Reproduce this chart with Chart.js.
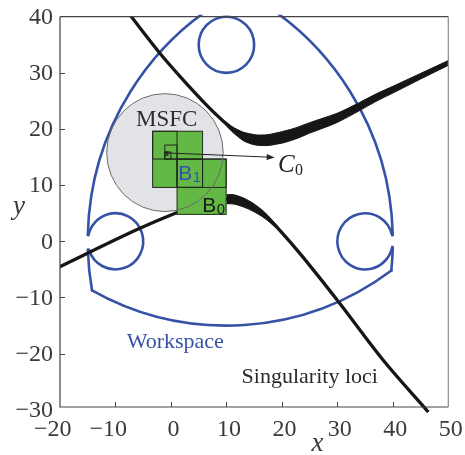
<!DOCTYPE html>
<html><head><meta charset="utf-8">
<script src="https://cdn.jsdelivr.net/npm/chart.js@4.4.0/dist/chart.umd.min.js"></script>
<style>html,body{margin:0;padding:0;background:#fff}#wrap{width:465px;height:455px}</style>
</head><body>
<div id="wrap"><canvas id="c" width="465" height="455"></canvas></div>
<script>
// ---- axes ----
const xTicks = [-20, -10, 0, 10, 20, 30, 40, 50];
const yTicks = [-30, -20, -10, 0, 10, 20, 30, 40];

// ---- singularity loci (upper branch) ----
const upperX = [-7.3, -2.0, 2.8, 7.6, 10, 11.2, 12.5, 13.5, 14.5, 15.5, 17, 18.5, 20.2, 23.2, 26, 29.2, 33.7, 40, 45, 50.5];
const upperY = [40.2, 33.5, 28.1, 23.1, 20.9, 19.8, 18.95, 18.5, 18.2, 18.0, 18.0, 18.2, 18.5, 19.5, 20.5, 21.7, 23.9, 27.0, 29.4, 32.0];
const upperBandX   = [10, 11, 12, 13, 14, 15, 16, 17, 18, 19, 20, 21.5, 23, 25, 27, 30, 34, 37, 40, 45, 50.5];
const upperBandTop = [21.2, 20.45, 19.9, 19.45, 19.2, 19.0, 18.92, 18.95, 19.08, 19.3, 19.52, 19.9, 20.38, 21.13, 21.8, 22.82, 24.72, 26.26, 27.6, 29.9, 32.42];
const upperBandBot = [20.6, 19.55, 18.7, 17.95, 17.5, 17.2, 17.08, 17.05, 17.12, 17.3, 17.48, 17.9, 18.42, 19.27, 20.0, 21.18, 23.28, 24.94, 26.4, 28.9, 31.58];

// ---- singularity loci (lower branch) ----
const lowerX = [-20.3, -5.6, 1.0, 4.0, 6.5, 8.5, 10, 11, 12, 13, 14, 15, 16, 17, 18, 20, 23.2, 30, 38.2, 46.4];
const lowerY = [-4.64, 2.33, 5.1, 6.2, 7.0, 7.45, 7.5, 7.5, 7.3, 6.95, 6.5, 5.95, 5.3, 4.55, 3.65, 1.55, -2.1, -10.5, -21.1, -30.4];
const lowerBandX   = [10, 11, 12, 13, 14, 15, 16, 17, 18, 19, 20];
const lowerBandTop = [8.3, 8.32, 8.12, 7.75, 7.25, 6.65, 5.92, 5.07, 4.07, 2.97, 1.8];
const lowerBandBot = [6.7, 6.68, 6.48, 6.15, 5.75, 5.25, 4.68, 4.03, 3.23, 2.33, 1.3];

// ---- workspace boundary arcs (centre, radius, from/to angle in degrees) ----
const wsArcCX   = [35, 35, -10, -10, 10, 10, -10, 35];
const wsArcCY   = [0, 0, 0, 0, 35, 35, 0, 0];
const wsArcR    = [50, 50, 50, 50, 50, 5, 5, 5];
const wsArcFrom = [116.7, 181.7, 1.3, -6.0, 241.0, 0, 197.5, 12.7];
const wsArcTo   = [178.7, 190.1, 63.3, -1.2, 306.5, 360, 527.3, 348.5];

// ---- MSFC circle ----
const msfcCenter = [-1.08, 15.8];
const msfcRadius = 10.5;

// ---- bisection boxes ----
const boxX0 = [-3.3, 1.1, -3.3, 1.1, 1.1, -1.1, -1.1, -1.1, -0.83];
const boxX1 = [5.7, 9.95, 1.1, 5.7, 9.95, 1.1, 0.0, -0.55, -0.55];
const boxY0 = [9.6, 4.8, 14.65, 9.6, 9.6, 14.65, 14.65, 15.28, 15.59];
const boxY1 = [19.6, 14.65, 19.6, 14.65, 14.65, 17.15, 15.9, 15.9, 15.9];

// ---- arrow to C0 ----
const arrowFrom = [-0.9, 15.75];
const arrowTo = [18.7, 14.95];

const BLACK = '#161616';
const BLUE = '#3552a6';
const GREEN = '#64b845';
const SERIF = '"Liberation Serif"';
const SANS = '"Liberation Sans"';

function pts(xs, ys) { return xs.map((x, i) => ({ x: x, y: ys[i] })); }
function ds(xs, ys, w, extra) {
  return Object.assign({
    data: pts(xs, ys), borderColor: BLACK, backgroundColor: BLACK, borderWidth: w,
    pointRadius: 0, cubicInterpolationMode: 'monotone', fill: false
  }, extra || {});
}

const drawPlugin = {
  id: 'drawPlugin',
  beforeDatasetsDraw(chart) {
    const c = chart.ctx, xs = chart.scales.x, ys = chart.scales.y, a = chart.chartArea;
    const kx = xs.getPixelForValue(1) - xs.getPixelForValue(0);
    const ky = ys.getPixelForValue(0) - ys.getPixelForValue(1);
    c.save();
    c.beginPath();
    c.ellipse(xs.getPixelForValue(msfcCenter[0]), ys.getPixelForValue(msfcCenter[1]), msfcRadius * kx, msfcRadius * ky, 0, 0, Math.PI * 2);
    c.fillStyle = '#e2e3e6';
    c.fill();
    c.restore();
    c.save();
    c.beginPath(); c.rect(a.left, a.top - 2, a.right - a.left, a.bottom - a.top + 2); c.clip();
    c.strokeStyle = BLUE; c.lineWidth = 2.6; c.lineCap = 'round';
    for (let i = 0; i < wsArcCX.length; i++) {
      c.beginPath();
      c.ellipse(xs.getPixelForValue(wsArcCX[i]), ys.getPixelForValue(wsArcCY[i]), wsArcR[i] * kx, wsArcR[i] * ky, 0,
        -wsArcFrom[i] * Math.PI / 180, -wsArcTo[i] * Math.PI / 180, true);
      c.stroke();
    }
    c.restore();
  },
  afterDatasetsDraw(chart) {
    const c = chart.ctx, xs = chart.scales.x, ys = chart.scales.y, a = chart.chartArea;
    const px = v => xs.getPixelForValue(v), py = v => ys.getPixelForValue(v);
    const kx = px(1) - px(0), ky = py(0) - py(1);
    c.save();
    c.fillStyle = GREEN;
    for (let i = 0; i < boxX0.length; i++) {
      c.fillRect(px(boxX0[i]), py(boxY1[i]), px(boxX1[i]) - px(boxX0[i]), py(boxY0[i]) - py(boxY1[i]));
    }
    c.strokeStyle = '#1e2a1a'; c.lineWidth = 1;
    for (let i = 0; i < boxX0.length; i++) {
      c.strokeRect(px(boxX0[i]), py(boxY1[i]), px(boxX1[i]) - px(boxX0[i]), py(boxY0[i]) - py(boxY1[i]));
    }
    c.beginPath();
    c.ellipse(px(msfcCenter[0]), py(msfcCenter[1]), msfcRadius * kx, msfcRadius * ky, 0, 0, Math.PI * 2);
    c.strokeStyle = '#6a6a6a'; c.lineWidth = 1; c.stroke();
    const x0 = px(arrowFrom[0]), y0 = py(arrowFrom[1]), x1 = px(arrowTo[0]), y1 = py(arrowTo[1]);
    const ang = Math.atan2(y1 - y0, x1 - x0);
    c.beginPath(); c.moveTo(x0, y0); c.lineTo(x1 - 6 * Math.cos(ang), y1 - 6 * Math.sin(ang));
    c.strokeStyle = '#222'; c.lineWidth = 1; c.stroke();
    c.beginPath();
    c.moveTo(x1, y1);
    c.lineTo(x1 - 8 * Math.cos(ang) + 3 * Math.sin(ang), y1 - 8 * Math.sin(ang) - 3 * Math.cos(ang));
    c.lineTo(x1 - 8 * Math.cos(ang) - 3 * Math.sin(ang), y1 - 8 * Math.sin(ang) + 3 * Math.cos(ang));
    c.closePath(); c.fillStyle = '#222'; c.fill();
    c.textBaseline = 'alphabetic';
    c.fillStyle = '#2e2e2e';
    c.font = '23px ' + SERIF; c.textAlign = 'center';
    c.fillText('MSFC', px(-0.78), py(20.5));
    c.textAlign = 'left';
    c.fillStyle = BLUE; c.font = '22px ' + SERIF;
    c.fillText('Workspace', px(-7.98), py(-19.05));
    c.fillStyle = '#2a2a2a';
    c.fillText('Singularity loci', px(12.74), py(-25.28));
    c.font = 'italic 25px ' + SERIF; c.fillStyle = '#222';
    let bx = px(19.28), by = py(12.35);
    c.fillText('C', bx, by);
    let w = c.measureText('C').width;
    c.font = '16px ' + SERIF;
    c.fillText('0', bx + w + 0.5, by + 3);
    c.font = '21px ' + SANS; c.fillStyle = BLUE;
    bx = px(1.32); by = py(10.92);
    c.fillText('B', bx, by);
    w = c.measureText('B').width;
    c.font = '15px ' + SANS;
    c.fillText('1', bx + w + 0.5, by + 2);
    c.font = '21px ' + SANS; c.fillStyle = '#1a1a1a';
    bx = px(5.64); by = py(5.28);
    c.fillText('B', bx, by);
    w = c.measureText('B').width;
    c.font = '15px ' + SANS;
    c.fillText('0', bx + w + 0.5, by + 2);

    c.lineWidth = 1.2;
    c.strokeStyle = '#444';
    c.beginPath();
    c.moveTo(a.left, a.top); c.lineTo(a.left, a.bottom); c.lineTo(a.right, a.bottom);
    c.moveTo(a.left, a.top); c.lineTo(a.right, a.top);
    c.stroke();
    c.strokeStyle = '#8a8a8a';
    c.beginPath(); c.moveTo(a.right, a.top); c.lineTo(a.right, a.bottom); c.stroke();
    c.strokeStyle = '#444'; c.lineWidth = 1;
    xTicks.forEach(v => {
      if (v <= xs.min || v >= xs.max) return;
      const x = Math.round(px(v)) + 0.5;
      c.beginPath(); c.moveTo(x, a.bottom); c.lineTo(x, a.bottom - 5); c.stroke();
    });
    yTicks.forEach(v => {
      if (v <= ys.min || v >= ys.max) return;
      const y = Math.round(py(v)) + 0.5;
      c.beginPath(); c.moveTo(a.left, y); c.lineTo(a.left + 5, y); c.stroke();
    });
    const fmt = v => (v < 0 ? '\u2212' : '') + Math.abs(v);
    c.font = '24px ' + SERIF; c.fillStyle = '#3a3a3a'; c.textBaseline = 'middle';
    yTicks.forEach(v => {
      c.textAlign = 'right';
      c.fillText(fmt(v), a.left - 7, py(v) + 1);
    });
    xTicks.forEach(v => {
      const s = fmt(v);
      const digits = String(Math.abs(v));
      const dw = c.measureText(digits).width;
      c.textAlign = 'left';
      if (v < 0) {
        const mw = c.measureText('\u2212').width;
        c.fillText(s, px(v) - 0.5 - dw / 2 - mw, 430);
      } else {
        c.fillText(s, px(v) + 2.5 - dw / 2, 430);
      }
    });
    c.font = 'italic 27px ' + SERIF; c.textAlign = 'center';
    c.fillText('x', a.left + 0.663 * (a.right - a.left), 444);
    c.fillText('y', 19, 207);
    c.restore();
  }
};

new Chart(document.getElementById('c'), {
  type: 'line',
  data: {
    datasets: [
      ds(upperX, upperY, 3.3),
      ds(upperBandX, upperBandTop, 1),
      ds(upperBandX, upperBandBot, 1, { fill: '-1' }),
      ds(lowerX, lowerY, 3.3, { clip: { left: 0, top: 0, right: 0, bottom: 6 } }),
      ds(lowerBandX, lowerBandTop, 1),
      ds(lowerBandX, lowerBandBot, 1, { fill: '-1' })
    ]
  },
  options: {
    responsive: false,
    animation: false,
    events: [],
    layout: { padding: { left: 60, right: 16.7, top: 16.7, bottom: 48 } },
    scales: {
      x: { type: 'linear', min: -20, max: 50, display: false },
      y: { type: 'linear', min: -29.5, max: 40, display: false }
    },
    plugins: { legend: { display: false }, tooltip: { enabled: false } }
  },
  plugins: [drawPlugin]
});
</script>
</body></html>
